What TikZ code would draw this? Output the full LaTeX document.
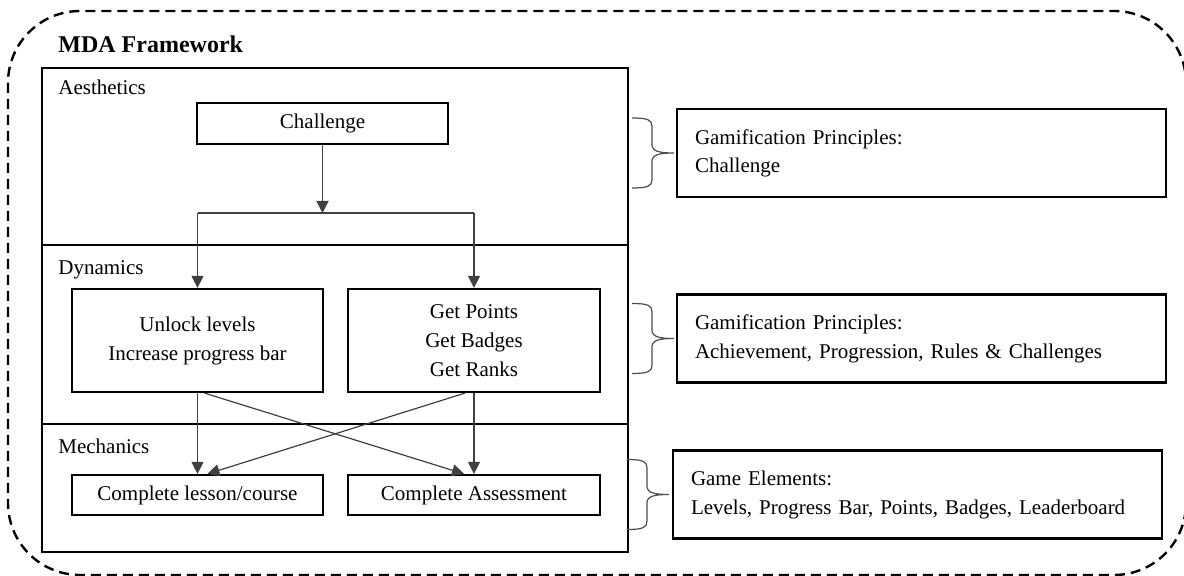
\documentclass[tikz,border=0pt]{standalone}
\usepackage{fontspec}
\setmainfont{Liberation Serif}
\usetikzlibrary{arrows.meta}
\usetikzlibrary{positioning}

\begin{document}
\begin{tikzpicture}
[x=0.5pt,y=-0.5pt,>={Triangle[length=6pt,width=6pt]},%
  box/.style={draw,line width=1.1pt,minimum width=125.5pt,align=center,
    font=\fontsize{10.5}{14.5}\selectfont},
  gbox/.style={draw,line width=1.1pt,minimum width=244.5pt,minimum height=44pt,
    inner xsep=9pt,text width=226.5pt,align=left,font=\fontsize{10.5}{14.5}\selectfont},
  layer/.style={anchor=base west,inner sep=0pt,font=\fontsize{10.5}{12}\selectfont},
  arr/.style={->,draw=black!75,line width=0.6pt},
  link/.style={draw=black!75,line width=0.6pt},
  gbrace/.pic={\draw[draw=black!70,line width=0.6pt]
    (-42,-35) .. controls (-26,-35) and (-22,-33) .. (-22,-27) -- (-22,-9)
    .. controls (-22,-2) and (-16,0) .. (0,0)
    .. controls (-16,0) and (-22,2) .. (-22,9) -- (-22,27)
    .. controls (-22,33) and (-26,35) .. (-42,35);}]
\useasboundingbox (0,0) rectangle (1184,576);
%% dashed frame and layers
\draw[line width=1.2pt,dash pattern=on 5pt off 3pt,rounded corners=36pt]
  (8,11) rectangle (1186,575);
\node[anchor=base west,inner sep=0pt,font=\fontsize{12}{14}\selectfont\bfseries]
  (title) at (58,53) {MDA Framework};
\draw[line width=1.1pt] (42,68) rectangle (628,552);
\draw[line width=1.1pt] (42,245) -- (628,245);
\draw[line width=1.1pt] (42,424) -- (628,424);
\node[layer] (aes) at (58,95) {Aesthetics};
\node[layer] (dyn) at (58,275) {Dynamics};
\node[layer] (mech) at (58,454) {Mechanics};
%% boxes
\node[box,minimum height=20.5pt] (challenge) at (322.5,123.5) {Challenge};
\node[box,minimum height=51.5pt] (unlock) at (197.5,340.5) {Unlock levels\\Increase progress bar};
\node[box,minimum height=51.5pt,minimum width=126pt] (points) at (474,340.5) {Get Points\\Get Badges\\Get Ranks};
\node[box,minimum height=20pt] (lesson) at (197.5,495) {Complete lesson/course};
\node[box,minimum height=20pt,minimum width=126pt] (assess) at (474,495) {Complete Assessment};
\coordinate (split) at (322.5,213);
%% principles
\node[gbox,font=\fontsize{10.5}{14}\selectfont] (gp1) at (921.5,153) {Gamification Principles:\\Challenge};
\node[gbox] (gp2) at (921.5,338.5) {Gamification Principles:\\Achievement, Progression, Rules \& Challenges};
\node[gbox] (gp3) at (917.5,494.5) {Game Elements:\\Levels, Progress Bar, Points, Badges, Leaderboard};
%% connectors
\draw[arr] (challenge) -- (split);
\draw[link] (split -| unlock) -- (split -| points);
\draw[arr] (split -| unlock) -- (unlock);
\draw[arr] (split -| points) -- (points);
\draw[arr] (unlock) -- (lesson);
\draw[arr] (points) -- (assess);
\draw[arr] ([xshift=3.5pt]unlock.south) -- ([xshift=-5pt]assess.north);
\draw[arr] ([xshift=-4.5pt]points.south) -- ([xshift=5pt]lesson.north);
%% braces
\pic at ([xshift=-1pt]gp1.west) {gbrace};
\pic at ([xshift=-1pt]gp2.west) {gbrace};
\pic at ([xshift=-1.5pt]gp3.west) {gbrace};
\end{tikzpicture}
\end{document}
